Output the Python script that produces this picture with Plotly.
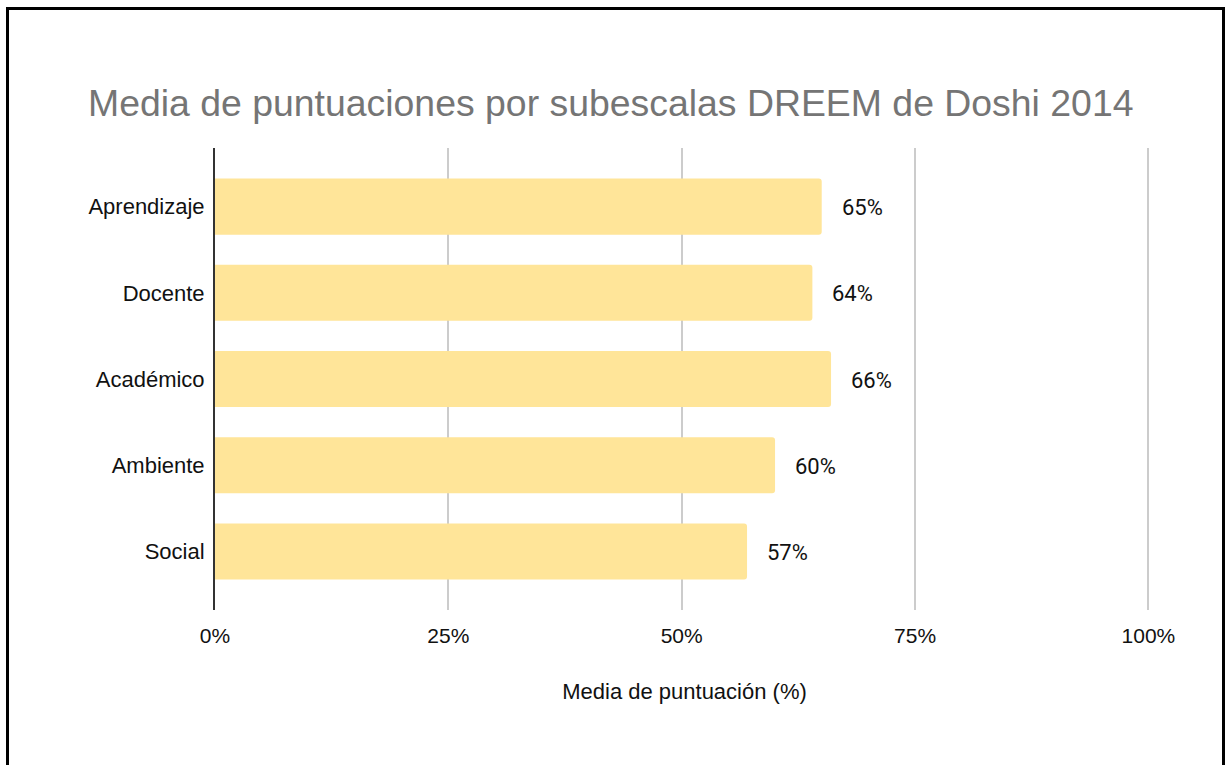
import plotly.graph_objects as go

# Subscale scores (%) for DREEM, Doshi 2014
categorias = ["Aprendizaje", "Docente", "Académico", "Ambiente", "Social"]
puntuaciones = [65, 64, 66, 60, 57]
ticks_x = [0, 25, 50, 75, 100]
ticks_x_texto = ["0%", "25%", "50%", "75%", "100%"]

W, H = 1225, 765
X_MAX = 100.6          # a little headroom so the 100% gridline is drawn
PX_PER_UNIT = 9.33
ML, MT, MB = 215, 148, 155
PW = round(X_MAX * PX_PER_UNIT)
MR = W - ML - PW
PH = H - MT - MB

fig = go.Figure()
fig.add_trace(go.Bar(
    x=puntuaciones,
    y=categorias,
    orientation="h",
    marker=dict(color="#FFE599", line=dict(width=0)),
    hoverinfo="x+y",
))

# value labels to the right of each bar
for cat, val in zip(categorias, puntuaciones):
    fig.add_annotation(
        x=val, y=cat, xref="x", yref="y",
        text=f"{val}%", showarrow=False,
        xanchor="left", yanchor="middle", xshift=18, yshift=-1,
        font=dict(family="Roboto", size=22, color="#111111"),
    )

# outer frame of the chart
def px_to_paper_x(px):
    return (px - ML) / PW

def px_to_paper_y(py):
    return (H - MB - py) / PH

fig.add_shape(
    type="rect", xref="paper", yref="paper",
    x0=px_to_paper_x(7.5), x1=px_to_paper_x(1223.5),
    y0=px_to_paper_y(775), y1=px_to_paper_y(8.5),
    line=dict(color="#000000", width=3),
    fillcolor="rgba(0,0,0,0)", layer="above",
)

fig.update_layout(
    width=W, height=H,
    margin=dict(l=ML, r=MR, t=MT, b=MB, pad=0),
    paper_bgcolor="#ffffff",
    plot_bgcolor="#ffffff",
    bargap=0.35,
    barcornerradius=3,
    showlegend=False,
    font=dict(family="Liberation Sans", color="#111111"),
    title=dict(
        text="Media de puntuaciones por subescalas DREEM de Doshi 2014",
        font=dict(family="Liberation Sans", size=37.4, color="#757575"),
        xref="container", yref="container",
        x=88 / W, xanchor="left",
        y=1 - 103 / H, yanchor="middle",
    ),
    xaxis=dict(
        range=[0, X_MAX],
        tickvals=ticks_x,
        ticktext=ticks_x_texto,
        showgrid=True, gridcolor="#cccccc", gridwidth=1.5,
        zeroline=False, showline=False,
        ticks="outside", ticklen=7, tickcolor="rgba(0,0,0,0)",
        tickfont=dict(family="Liberation Sans", size=21, color="#111111"),
        title=dict(text="Media de puntuación (%)",
                   font=dict(family="Liberation Sans", size=22, color="#111111"),
                   standoff=37),
        fixedrange=True,
    ),
    yaxis=dict(
        categoryorder="array", categoryarray=categorias,
        autorange=False, range=[4.68, -0.68],
        showgrid=False, zeroline=False,
        showline=True, linecolor="#333333", linewidth=2,
        ticks="outside", ticklen=4, tickcolor="rgba(0,0,0,0)",
        tickfont=dict(family="Liberation Sans", size=22, color="#111111"),
        fixedrange=True,
    ),
)

fig.write_html("out.html")
